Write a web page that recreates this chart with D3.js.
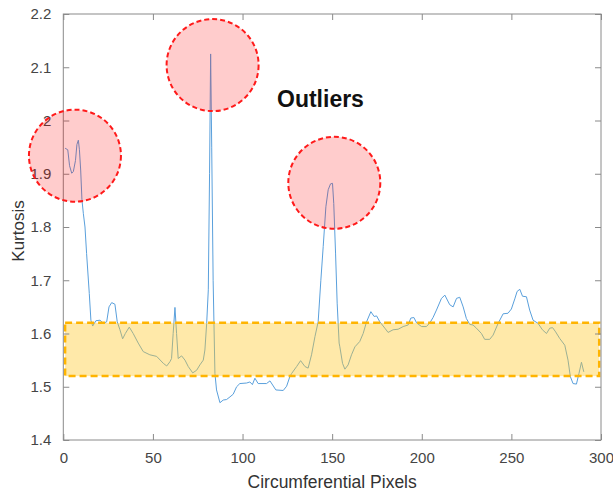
<!DOCTYPE html>
<html>
<head>
<meta charset="utf-8">
<script src="https://cdn.jsdelivr.net/npm/d3@7"></script>
<style>
  html, body { margin: 0; padding: 0; background: #fff; }
  svg { display: block; font-family: "Liberation Sans", Arial, sans-serif; }
</style>
</head>
<body>
<svg id="chart" width="613" height="493"></svg>
<script>
// ---- data ----
const pixels = [1.0,2.5,3.5,4.7,5.6,6.8,7.6,8.4,9.0,9.7,10.4,11.2,12.1,13.0,14.5,15.4,16.4,18.2,20.5,22.3,24.2,25.5,27.0,28.8,30.1,31.6,33.1,34.6,36.8,39.0,41.8,44.6,48.3,52.1,55.8,57.7,59.5,60.4,61.3,62.3,63.2,64.1,66.0,67.9,69.7,72.2,74.4,76.2,78.1,79.0,80.0,80.9,81.6,82.2,82.8,83.6,84.6,85.5,87.4,89.2,91.1,93.0,94.8,96.7,98.5,102.3,104.1,105.5,106.9,108.7,113.4,115.3,118.6,122.7,124.6,126.4,127.4,130.2,132.4,134.8,136.6,138.5,140.4,142.2,143.7,145.0,146.5,147.8,149.1,150.2,150.9,151.9,152.8,153.9,154.3,155.8,157.1,158.9,160.8,162.7,165.4,167.3,169.2,171.6,173.4,174.8,176.6,179.4,181.2,184.0,186.8,189.6,192.4,193.9,195.6,197.1,199.9,202.6,204.5,206.3,208.2,211.0,212.9,215.6,217.5,219.4,221.2,223.1,224.9,226.8,228.6,230.5,233.3,235.1,237.9,239.8,242.6,245.4,248.1,250.0,251.9,253.2,254.7,256.2,258.4,260.2,262.1,264.9,267.3,269.6,271.4,273.0,274.7,276.9,279.8,281.6,282.9,284.4,286.3,287.7,289.1,290.4];
const kurtosis = [1.948,1.945,1.915,1.901,1.904,1.925,1.955,1.963,1.945,1.907,1.851,1.825,1.800,1.750,1.675,1.625,1.614,1.624,1.625,1.619,1.622,1.650,1.658,1.655,1.622,1.607,1.590,1.600,1.612,1.600,1.582,1.566,1.560,1.557,1.544,1.539,1.547,1.553,1.600,1.649,1.600,1.553,1.558,1.550,1.538,1.526,1.531,1.541,1.550,1.569,1.619,1.682,1.900,2.125,1.950,1.700,1.525,1.494,1.470,1.475,1.476,1.481,1.486,1.500,1.506,1.507,1.509,1.504,1.516,1.506,1.506,1.511,1.494,1.493,1.501,1.519,1.525,1.538,1.549,1.538,1.535,1.560,1.594,1.622,1.700,1.763,1.838,1.870,1.881,1.882,1.844,1.751,1.657,1.582,1.575,1.544,1.533,1.541,1.560,1.575,1.585,1.600,1.622,1.641,1.632,1.633,1.622,1.610,1.602,1.607,1.608,1.613,1.616,1.629,1.630,1.620,1.613,1.613,1.620,1.630,1.644,1.666,1.672,1.654,1.650,1.666,1.668,1.650,1.628,1.617,1.616,1.610,1.600,1.589,1.589,1.597,1.619,1.637,1.638,1.646,1.665,1.679,1.683,1.670,1.669,1.644,1.625,1.619,1.607,1.600,1.610,1.611,1.603,1.591,1.578,1.550,1.519,1.506,1.505,1.525,1.546,1.528];
const xTicks = [0, 50, 100, 150, 200, 250, 300];
const yTicks = [1.4, 1.5, 1.6, 1.7, 1.8, 1.9, 2.0, 2.1, 2.2];
const yTickLabels = ["1.4","1.5","1.6","1.7","1.8","1.9","2","2.1","2.2"];
// outlier circles: centre (pixel, kurtosis)
const outlierX = [6.5, 83.3, 151.2];
const outlierY = [1.934, 2.104, 1.883];
// normal band: [x0, x1], [y0, y1]
const bandX = [1, 299];
const bandY = [1.52, 1.62];

// ---- layout ----
const svg = d3.select("#chart");
const mL = 63.3, mR = 601, mT = 14, mB = 440;
const x = d3.scaleLinear().domain([0, 300]).range([mL, mR]);
const y = d3.scaleLinear().domain([1.4, 2.2]).range([mB, mT]);
const axisColor = "#8a8a8a", textColor = "#454545";

// data line
svg.append("path")
  .datum(pixels.map((p, i) => [p, kurtosis[i]]))
  .attr("fill", "none")
  .attr("stroke", "#5aa0dc")
  .attr("stroke-width", 1)
  .attr("stroke-linejoin", "round")
  .attr("d", d3.line().x(d => x(d[0])).y(d => y(d[1])));

// band
svg.append("rect")
  .attr("x", x(bandX[0])).attr("y", y(bandY[1]))
  .attr("width", x(bandX[1]) - x(bandX[0]))
  .attr("height", y(bandY[0]) - y(bandY[1]))
  .attr("fill", "rgba(255,200,40,0.4)")
  .attr("stroke", "#ffb400")
  .attr("stroke-width", 2.5)
  .attr("stroke-dasharray", "7,4");

// axes
function styleAxis(g) {
  g.select(".domain").remove();
  g.selectAll(".tick line").attr("stroke", axisColor);
  g.selectAll(".tick text").attr("fill", textColor).style("font-size", "15px")
   .style("font-family", '"Liberation Sans", Arial, sans-serif');
}
svg.append("g").attr("transform", `translate(0,${mB})`)
  .call(d3.axisBottom(x).tickValues(xTicks).tickSizeInner(-6).tickSizeOuter(0).tickPadding(12))
  .call(styleAxis);
svg.append("g").attr("transform", `translate(0,${mT})`)
  .call(d3.axisTop(x).tickValues(xTicks).tickSizeInner(-6).tickSizeOuter(0).tickFormat(""))
  .call(styleAxis);
svg.append("g").attr("transform", `translate(${mL},0)`)
  .call(d3.axisLeft(y).tickValues(yTicks).tickSizeInner(-6).tickSizeOuter(0).tickPadding(12)
    .tickFormat((d, i) => yTickLabels[i]))
  .call(styleAxis);
svg.append("g").attr("transform", `translate(${mR},0)`)
  .call(d3.axisRight(y).tickValues(yTicks).tickSizeInner(-6).tickSizeOuter(0).tickFormat(""))
  .call(styleAxis);

// box
svg.append("rect")
  .attr("x", mL).attr("y", mT)
  .attr("width", mR - mL).attr("height", mB - mT)
  .attr("fill", "none").attr("stroke", axisColor).attr("stroke-width", 1);

// circles (drawn over the axis, as in the reference)
svg.selectAll("circle.out").data(outlierX).enter().append("circle")
  .attr("class", "out")
  .attr("cx", d => x(d))
  .attr("cy", (d, i) => y(outlierY[i]))
  .attr("r", 46)
  .attr("fill", "rgba(255,0,0,0.2)")
  .attr("stroke", "#ff1a1a")
  .attr("stroke-width", 2)
  .attr("stroke-dasharray", "5,3");

// labels
svg.append("text")
  .attr("x", (mL + mR) / 2).attr("y", 488)
  .attr("text-anchor", "middle").attr("fill", "#333")
  .style("font-size", "17.5px")
  .text("Circumferential Pixels");
svg.append("text")
  .attr("transform", `translate(24,${(mT + mB) / 2 + 4}) rotate(-90)`)
  .attr("text-anchor", "middle").attr("fill", "#333")
  .style("font-size", "17px")
  .text("Kurtosis");
svg.append("text")
  .attr("x", 277).attr("y", 107)
  .attr("fill", "#111")
  .style("font-size", "23px").style("font-weight", "bold")
  .text("Outliers");
</script>
</body>
</html>
